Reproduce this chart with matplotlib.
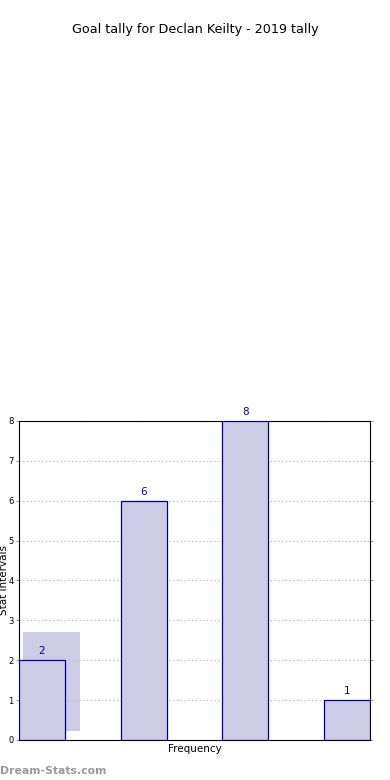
import matplotlib
matplotlib.use('Agg')
import matplotlib.pyplot as plt
from matplotlib.patches import Rectangle

categories = ['a', 'b', 'c', 'd']
goals = [2, 6, 8, 1]
yticks = [0, 1, 2, 3, 4, 5, 6, 7, 8]

fill = '#ccccе6'.replace('е', 'e')

fig = plt.figure(figsize=(3.9, 7.8), dpi=100)
ax = fig.add_axes([0.0487, 0.0513, 0.9, 0.4090])

x = list(range(len(goals)))
ax.bar(x, goals, width=0.45, align='edge', color=fill,
       edgecolor='#000099', linewidth=0.9, zorder=3)
for xi, g in zip(x, goals):
    ax.text(xi + 0.225, g + 0.1, str(g), ha='center', va='bottom',
            fontsize=7.5, color='#000099', zorder=4)

# pale box behind the first bar
ax.add_patch(Rectangle((0.011, 0.028), 0.163, 0.31, transform=ax.transAxes,
                       facecolor=fill, edgecolor='none', zorder=1))

ax.set_xlim(0, 3.45)
ax.set_ylim(0, 8)
ax.set_yticks(yticks)
ax.set_xticks([])
ax.tick_params(axis='y', labelsize=6, length=2, color='#999999', right=True, pad=2)
ax.yaxis.grid(True, linestyle=(0, (1, 2)), color='#bbbbbb', linewidth=0.9, zorder=0)
for s in ax.spines.values():
    s.set_linewidth(0.8)

ax.set_xlabel('Frequency', fontsize=7.5, labelpad=3)
ax.set_ylabel('Stat intervals', fontsize=7.5)
ax.yaxis.set_label_coords(-0.028, 0.5)

fig.text(0.5, 0.962, 'Goal tally for Declan Keilty - 2019 tally', ha='center',
         va='center', fontsize=9.2)
fig.text(0.0, 0.012, 'Dream-Stats.com', ha='left', va='center', fontsize=7.8,
         color='#999999', fontweight='bold')

fig.savefig('out.png', dpi=100)
